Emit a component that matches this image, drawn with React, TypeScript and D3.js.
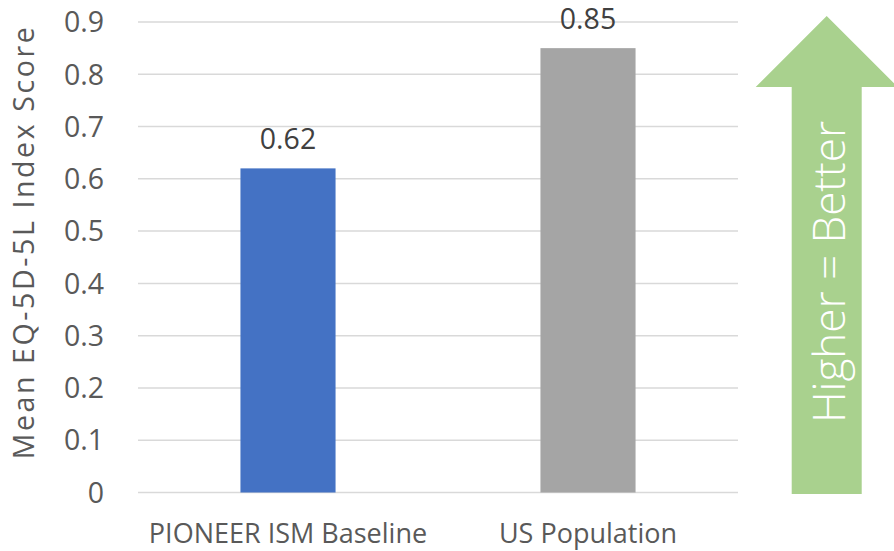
import React from "react";
import * as d3 from "d3";

const categories = ["PIONEER ISM Baseline", "US Population"];
const values = [0.62, 0.85];
const barColors = ["#4472C4", "#A5A5A5"];
const yTicks = [0, 0.1, 0.2, 0.3, 0.4, 0.5, 0.6, 0.7, 0.8, 0.9];
const yTitle = "Mean EQ-5D-5L Index Score";
const arrowText = "Higher = Better";

const W = 894;
const H = 551;
const FONT = "'Open Sans', 'Noto Sans', sans-serif";

export default function App() {
  const x = d3
    .scaleBand<string>()
    .domain(categories)
    .range([138, 738])
    .paddingInner(0.683)
    .paddingOuter(0.3415);
  const y = d3.scaleLinear().domain([0, 0.9]).range([492.5, 22]);

  const arrowPath = d3.path();
  const tipX = 826.7, tipY = 16, headY = 87, headL = 755.7, headR = 897.7, shaftL = 791.7, shaftR = 861.7, bottom = 494;
  arrowPath.moveTo(tipX, tipY);
  arrowPath.lineTo(headR, headY);
  arrowPath.lineTo(shaftR, headY);
  arrowPath.lineTo(shaftR, bottom);
  arrowPath.lineTo(shaftL, bottom);
  arrowPath.lineTo(shaftL, headY);
  arrowPath.lineTo(headL, headY);
  arrowPath.closePath();

  return (
    <svg
      width={W}
      height={H}
      style={{ position: "absolute", left: 0, top: 0, background: "#fff" }}
      fontFamily={FONT}
    >
      {yTicks.map((t) => (
        <g key={t}>
          <line x1={138} x2={738} y1={y(t)} y2={y(t)} stroke="#D9D9D9" strokeWidth={1.5} />
          <text x={104} y={y(t)} dy="0.36em" textAnchor="end" fontSize={28.5} fill="#595959">
            {d3.format("")(t)}
          </text>
        </g>
      ))}
      {categories.map((c, i) => (
        <g key={c}>
          <rect
            x={x(c)}
            y={y(values[i])}
            width={x.bandwidth()}
            height={y(0) - y(values[i])}
            fill={barColors[i]}
          />
          <text
            x={(x(c) as number) + x.bandwidth() / 2}
            y={y(values[i]) - 19.5}
            textAnchor="middle"
            fontSize={28.5}
            fill="#404040"
          >
            {values[i].toFixed(2)}
          </text>
          <text
            x={(x(c) as number) + x.bandwidth() / 2}
            y={543}
            textAnchor="middle"
            fontSize={27}
            fill="#595959"
          >
            {c}
          </text>
        </g>
      ))}
      <text
        transform={`translate(33.5, 242) rotate(-90)`}
        textAnchor="middle"
        fontSize={28.5}
        letterSpacing={2.6}
        fill="#595959"
      >
        {yTitle}
      </text>
      <path d={arrowPath.toString()} fill="#A9D18E" />
      <text
        transform={`translate(845, 272) rotate(-90)`}
        textAnchor="middle"
        fontSize={44}
        fontWeight={300}
        fill="#FFFFFF"
      >
        {arrowText}
      </text>
    </svg>
  );
}
